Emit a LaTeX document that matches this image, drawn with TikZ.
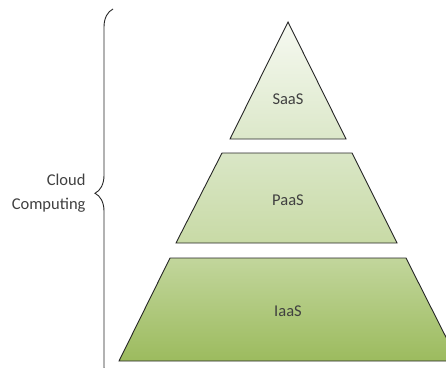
\documentclass[tikz,border=0pt]{standalone}
\usepackage{fontspec}
\setmainfont{Carlito}
\usetikzlibrary{decorations.pathreplacing}
\definecolor{layertop}{HTML}{F6F9F1}
\definecolor{layermid}{HTML}{D3E2BC}
\definecolor{layerlow}{HTML}{C2D69C}
\definecolor{layerbot}{HTML}{9CBB5E}
\definecolor{labelgray}{HTML}{404040}
\begin{document}
\begin{tikzpicture}[
        x=1pt, y=-1pt,
        layer/.style={draw=black!85, line width=0.9pt, line join=miter},
        lbl/.style={text=labelgray, font=\fontsize{16.5}{24}\selectfont},
    ]
    \useasboundingbox (0,0) rectangle (446,367);
    % SaaS
    \shade[layer, top color=layertop, bottom color=layermid!80!white]
        (288,22) -- (346,139) -- (230,139) -- cycle;
    \node[lbl] (saas) at (288,99) {SaaS};
    % PaaS
    \shade[layer, top color=layermid!85!white, bottom color=layerlow!90!white]
        (222,153) -- (352,153) -- (397,243) -- (176,243) -- cycle;
    \node[lbl] (paas) at (288,200) {PaaS};
    % IaaS
    \shade[layer, top color=layerlow, bottom color=layerbot]
        (170,258) -- (406,258) -- (458,361) -- (119,361) -- cycle;
    \node[lbl] (iaas) at (288,311) {IaaS};
    % brace
    \draw[black!85, line width=0.9pt, decorate,
          decoration={brace, amplitude=18pt, aspect=0.51}]
        (113,385) -- (113,9);
    \node[lbl, align=right, anchor=east] (cloud) at (89,193) {Cloud\\Computing};
\end{tikzpicture}
\end{document}
